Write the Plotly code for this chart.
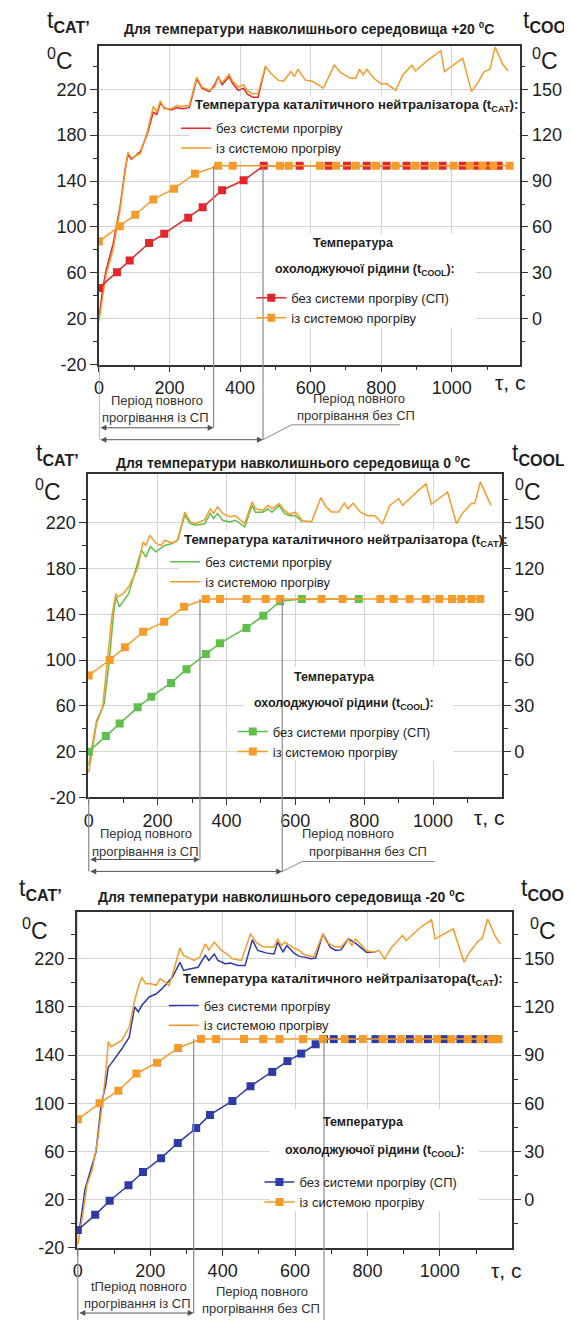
import plotly.graph_objects as go

FONT = "Liberation Sans, Arial, Helvetica, sans-serif"
W, H = 572, 1322

# ---------------- DATA ----------------
# Panel 1: ambient +20 C  (t_CAT in left-axis units, t_COOL in right-axis units)
p1_cat_t_wo = [0, 10, 20, 40, 60, 75, 82, 92, 118, 138, 154, 164, 174, 185, 205, 221, 236, 256, 277, 292,
               313, 328, 338, 349, 369, 379, 395, 410, 420, 436, 451, 472]
p1_cat_wo = [20, 45, 62, 85, 118, 152, 163, 159, 166, 182, 200, 198, 208, 204, 202, 204, 203, 204, 229, 221,
             218, 224, 231, 224, 231, 225, 219, 221, 216, 213, 213, 240]
p1_cat_t_w = [0, 10, 20, 40, 60, 75, 82, 92, 118, 138, 154, 164, 174, 185, 205, 221, 236, 256, 277, 292,
              313, 328, 338, 349, 369, 379, 395, 410, 420, 436, 451, 472, 487, 508, 523, 544, 554, 564, 585, 605,
              636, 667, 687, 713, 728, 738, 749, 759, 779, 800, 815, 841, 861, 887, 897, 933, 969, 979, 1031, 1056,
              1072, 1092, 1108, 1123, 1144, 1159]
p1_cat_w = [18, 40, 58, 80, 115, 150, 165, 160, 164, 184, 205, 200, 210, 203, 203, 206, 205, 206, 230.5, 222,
            219, 222, 230, 226, 233, 227, 222, 224, 219, 216, 216.5, 240, 234, 228, 227, 235.5, 231, 237.5, 228, 227,
            221, 241, 234, 229.6, 229.6, 237.5, 232.5, 237.5, 229.6, 224.7, 225, 219, 232.5, 241, 236, 245.7, 253.6, 235.5, 247, 218,
            225, 235.5, 237.5, 256.8, 242, 236]
p1_cool_t_wo = [0, 51, 87, 142, 185, 253, 294, 349, 410, 467, 569, 651, 703, 759, 815, 872, 923, 974, 1031, 1072,
                1103, 1133]
p1_cool_wo = [20, 30.4, 38, 49.5, 55.6, 66, 72.8, 84, 90.5, 100, 100, 100, 100, 100, 100, 100, 100, 100, 100, 100,
              100, 100]
p1_cool_t_w = [0, 59, 103, 154, 213, 272, 338, 379, 513, 538, 626, 672, 728, 785, 841, 897, 949, 1005, 1051, 1087,
               1118, 1164]
p1_cool_w = [50.6, 60.4, 68, 78, 85, 94.8, 100, 100, 100, 100, 100, 100, 100, 100, 100, 100, 100, 100, 100, 100,
             100, 100]
p1_warmup = [325, 465]   # full warm-up time: with heating, without heating

# Panel 2: ambient 0 C
p2_cat_t_wo = [0, 12, 23, 45, 60, 72, 79, 89, 116, 153, 166, 179, 195, 221, 242, 258, 279, 295, 310, 337,
               353, 363, 374, 389, 410, 426, 453, 474, 484, 505, 521, 532, 553, 568, 584, 600, 621]
p2_cat_wo = [8, 30, 47, 62, 100, 140, 155, 146.5, 158, 196, 190, 199, 194.4, 200, 201.7, 204.6, 226.4, 219, 217.7, 219,
             228, 223.5, 228, 222, 220.6, 222, 216, 235, 229, 229, 232, 229, 235, 228, 226, 226, 220.6]
p2_cat_t_w = [0, 12, 23, 40, 55, 68, 79, 84, 100, 116, 142, 158, 166, 177, 195, 210, 221, 242, 258, 279,
              295, 310, 337, 353, 363, 374, 389, 410, 426, 453, 474, 484, 505, 521, 532, 553, 568, 584, 600, 621,
              647, 674, 689, 705, 726, 742, 753, 768, 789, 810, 831, 853, 874, 900, 911, 947, 979, 995, 1042, 1068,
              1084, 1111, 1121, 1137, 1158, 1168]
p2_cat_w = [2, 25, 45, 58, 100, 140, 158, 155, 158, 164, 180, 203, 200, 209, 202, 200, 204.6, 202, 204.6, 229,
            220.6, 219, 222.6, 232, 228, 233.7, 228, 225, 226, 219, 238, 232, 230.5, 235, 232, 236.6, 230.8, 227, 229, 221.5,
            220.6, 241.8, 233.7, 229.3, 229.3, 237, 232, 237, 229, 226, 226, 219, 235, 241, 235, 245, 254, 236, 246.7, 219,
            227.7, 236.6, 236.6, 255.5, 242, 235]
p2_cool_t_wo = [0, 50, 90, 142, 182, 239, 284, 340, 381, 458, 507, 556, 619, 784]
p2_cool_wo = [0, 10.3, 18.4, 29, 36, 45, 54, 64, 71, 81, 89, 98.5, 100, 100]
p2_cool_t_w = [0, 61, 105, 158, 219, 277, 340, 381, 458, 514, 556, 676, 737, 847, 886, 932, 979, 1018, 1055, 1082,
               1111, 1137]
p2_cool_w = [49.9, 60, 68.3, 78.5, 85, 94.9, 100, 100, 100, 100, 100, 100, 100, 100, 100, 100, 100, 100, 100, 100,
             100, 100]
p2_warmup = [323, 562]

# Panel 3: ambient -20 C
p3_cat_t_wo = [3, 20, 50, 65, 77, 84, 92, 122, 142, 157, 167, 177, 197, 217, 232, 262, 282, 292, 312, 332,
               352, 362, 377, 387, 407, 422, 442, 462, 482, 497, 522, 542, 552, 567, 577, 597, 612, 627, 642, 657,
               677, 697, 712, 727, 747, 767, 797, 822]
p3_cat_wo = [-8, 29, 59.5, 100, 115, 130, 133, 145.5, 155, 180, 176, 181.4, 188.3, 191, 195, 205, 217, 210.3, 211.7, 213,
             222.8, 218.6, 224, 218.6, 215.9, 216.4, 214.5, 214.5, 235.7, 226.9, 224.7, 224, 233.8, 225.5, 231, 224.7, 222, 221.4, 220, 220.6,
             240.7, 229.7, 227, 227.4, 236.6, 233, 225.5, 225.5]
p3_cat_t_w = [0, 15, 25, 40, 55, 70, 80, 84, 92, 122, 142, 157, 167, 177, 187, 202, 217, 227, 242, 252,
              262, 282, 292, 322, 337, 352, 362, 377, 397, 412, 427, 452, 477, 492, 512, 542, 552, 562, 572, 592,
              612, 622, 642, 652, 677, 687, 707, 727, 747, 757, 767, 797, 817, 832, 847, 867, 897, 907, 947, 977,
              987, 1037, 1067, 1082, 1107, 1117, 1132, 1152, 1167]
p3_cat_w = [-17, 10, 32, 45, 70, 105, 135, 151, 147, 152.4, 163.4, 185.5, 196.6, 204.8, 199.3, 199.3, 198, 203.4, 200.7, 198,
            207.6, 229, 222.8, 218.6, 221.4, 232.4, 227.4, 233.8, 226.9, 224, 220, 218.6, 240.7, 233.8, 229.7, 229.7, 236.6, 231, 233.8, 229.7,
            226.9, 224, 222, 222, 240.7, 233.8, 230.2, 229.7, 236.6, 231, 236.6, 226.9, 225.5, 227, 220, 229.7, 239.3, 235.2, 246.2, 252.3,
            236.6, 244.8, 217.2, 225.5, 235.2, 236.6, 253, 239.3, 232.4]
p3_cool_t_wo = [0, 48, 88, 140, 180, 230, 276, 327, 365, 427, 477, 537, 579, 617, 657, 680, 707, 757, 822, 867,
                917, 967, 1012, 1057, 1097, 1127, 1152]
p3_cool_wo = [-18.8, -9.4, -0.6, 9, 17.3, 25.9, 35.3, 44.6, 52.8, 61.5, 70.7, 79.6, 86.3, 91, 96.8, 100, 100, 100, 100, 100,
              100, 100, 100, 100, 100, 100, 100]
p3_cool_t_w = [0, 60, 112, 162, 219, 277, 340, 382, 459, 512, 557, 622, 677, 737, 787, 842, 892, 942, 992, 1032,
               1077, 1112, 1142, 1162]
p3_cool_w = [50.1, 60, 67.9, 78.6, 85.3, 94.5, 100, 100, 100, 100, 100, 100, 100, 100, 100, 100, 100, 100, 100, 100,
             100, 100, 100, 100]
p3_warmup = [320, 680]

x_ticks = [0, 200, 400, 600, 800, 1000]
x_minor = [100, 300, 500, 700, 900, 1100]
left_ticks = [-20, 20, 60, 100, 140, 180, 220]
left_ticktext = ["-20", "20", "60", "100", "140", "180", "220"]
left_minor = [0, 40, 80, 120, 160, 200, 240]
right_ticks = [0, 30, 60, 90, 120, 150]
right_minor = [-15, 15, 45, 75, 105, 135, 165]

titles = ["Для температури навколишнього середовища +20 <sup>0</sup>C",
          "Для температури навколишнього середовища 0 <sup>0</sup>C",
          "Для температури навколишнього середовища -20 <sup>0</sup>C"]
cat_legend_titles = ["Температура каталітичного нейтралізатора (t<sub>CAT</sub>):",
                     "Температура каталітичного нейтралізатора (t<sub>CAT</sub>):",
                     "Температура каталітичного нейтралізатора(t<sub>CAT</sub>):"]
cool_legend_title = ["Температура", "охолоджуючої рідини (t<sub>COOL</sub>):"]
name_cat_wo = "без системи прогріву"
name_cat_w = "із системою прогріву"
name_cool_wo = "без системи прогріву (СП)"
name_cool_w = "із системою прогріву"
period_with = ["Період повного", "прогрівання із СП"]
period_without = ["Період повного", "прогрівання без СП"]
period_with_p3 = ["tПеріод повного", "прогрівання із СП"]

# right axis (t_COOL) relation to left axis (t_CAT): cool = (cat - 20) * 0.75
R_SCALE, R_OFF = 0.75, 20

# ---------------- STYLE / GEOMETRY ----------------
RED = "#E3262B"
GREEN = "#5EC04B"
BLUE = "#2E3AA6"
ORANGE = "#F59B2A"
GRID = "#D4D4D4"
AX = "#333333"
TXT = "#1E1E1E"
VLINE = "#8A8A8A"

PANELS = [
    dict(l=86.7, r=511.0, t=38.0, b=359.3, xr=(0, 1192), yr=(-20, 258)),
    dict(l=75.7, r=493.3, t=470.0, b=795.5, xr=(-2, 1200), yr=(-20, 262)),
    dict(l=64.3, r=503.3, t=910.7, b=1249.4, xr=(-3, 1199), yr=(-20, 259)),
]


def fx(px):
    return px / W


def fy(py):
    return 1 - py / H


def px2s(p, px):
    return p['xr'][0] + (px - p['l']) / (p['r'] - p['l']) * (p['xr'][1] - p['xr'][0])


def py2v(p, py):
    return p['yr'][0] + (p['b'] - py) / (p['b'] - p['t']) * (p['yr'][1] - p['yr'][0])


def v2py(p, v):
    return p['b'] - (v - p['yr'][0]) / (p['yr'][1] - p['yr'][0]) * (p['b'] - p['t'])


def cool2left(c):
    return c / R_SCALE + R_OFF


data = [
    dict(cat_wo=(p1_cat_t_wo, p1_cat_wo), cat_w=(p1_cat_t_w, p1_cat_w),
         cool_wo=(p1_cool_t_wo, p1_cool_wo), cool_w=(p1_cool_t_w, p1_cool_w),
         warm=p1_warmup, color=RED),
    dict(cat_wo=(p2_cat_t_wo, p2_cat_wo), cat_w=(p2_cat_t_w, p2_cat_w),
         cool_wo=(p2_cool_t_wo, p2_cool_wo), cool_w=(p2_cool_t_w, p2_cool_w),
         warm=p2_warmup, color=GREEN),
    dict(cat_wo=(p3_cat_t_wo, p3_cat_wo), cat_w=(p3_cat_t_w, p3_cat_w),
         cool_wo=(p3_cool_t_wo, p3_cool_wo), cool_w=(p3_cool_t_w, p3_cool_w),
         warm=p3_warmup, color=BLUE),
]

# layout-only positions (pixels)
LEG = [
    dict(cat=(164.5, 106), cool=(240.4, 277), cat_bg=(178, 89, 511, 154), cool_bg=(252, 228, 467, 322),
         cat_title=(181.5, 98), cool_t1=(343, 237), cool_t2=(355, 264)),
    dict(cat=(153.5, 543), cool=(221.7, 714), cat_bg=(167, 526, 493.3, 589), cool_bg=(233, 664, 444, 758),
         cat_title=(170.5, 536.5), cool_t1=(324, 674.5), cool_t2=(334, 701.5)),
    dict(cat=(152.1, 990), cool=(248.6, 1168), cat_bg=(165, 967, 503.3, 1033), cool_bg=(259, 1110, 470, 1212),
         cat_title=(169.1, 979), cool_t1=(354, 1122), cool_t2=(365, 1152)),
]
TITLE_POS = [(299, 20), (282, 457), (271, 895)]
CORNER = [
    dict(tl=(56, 14), cl=(47, 51), tr=(543, 14), cr=(537, 51)),
    dict(tl=(45, 450), cl=(35, 486), tr=(532, 450), cr=(520, 486)),
    dict(tl=(28, 888), cl=(22, 928), tr=(541, 888), cr=(535, 928)),
]
TAU = [(501, 377), (480, 816), (497, 1272)]
PERIOD_TXT = [
    dict(w=[(145.6, 395.6), (143.8, 413)], wo=[(348.6, 393), (346, 410.7)]),
    dict(w=[(134, 831.7), (134, 850)], wo=[(338, 831.7), (358, 850)]),
    dict(w=[(127, 1288), (125.6, 1305)], wo=[(251, 1293), (250, 1310)]),
]
ARROWS = [(423, 435), (858, 870), (1315, None)]
LEADER = [(420, 281, 390.6), (860, 291.8, 425.6), None]
VBOTTOM = [(423, 435), (858, 870), (1315, 1322)]

fig = go.Figure()
layout = dict(width=W, height=H, margin=dict(l=0, r=0, t=0, b=0),
              paper_bgcolor="white", plot_bgcolor="white",
              font=dict(family=FONT, color=TXT), showlegend=True)
annotations = []
shapes = []


def text_ann(txt, x, y, size, anchor="center", bold=False, color=TXT):
    if bold:
        txt = "<b>" + txt + "</b>"
    return dict(text=txt, x=fx(x), y=fy(y), xref="paper", yref="paper", xanchor=anchor,
                yanchor="middle", showarrow=False, font=dict(size=size, color=color, family=FONT))


for i, (p, d) in enumerate(zip(PANELS, data)):
    n = i + 1
    xa = "x" if n == 1 else f"x{n}"
    ya = "y" if n == 1 else f"y{n}"
    yr_ = f"y{n + 3}"
    lc = "legend" if n == 1 else f"legend{2 * n - 1}"
    lk = f"legend{2 * n}"

    # t_CAT traces
    fig.add_trace(go.Scatter(x=d['cat_wo'][0], y=d['cat_wo'][1], mode="lines", name=name_cat_wo,
                             line=dict(color=d['color'], width=1.5), xaxis=xa, yaxis=ya, legend=lc))
    fig.add_trace(go.Scatter(x=d['cat_w'][0], y=d['cat_w'][1], mode="lines", name=name_cat_w,
                             line=dict(color=ORANGE, width=1.5), xaxis=xa, yaxis=ya, legend=lc))
    # coolant traces (right axis)
    fig.add_trace(go.Scatter(x=d['cool_wo'][0], y=d['cool_wo'][1], mode="lines+markers", name=name_cool_wo,
                             line=dict(color=d['color'], width=1.5),
                             marker=dict(symbol="square", size=8, color=d['color']),
                             xaxis=xa, yaxis=yr_, legend=lk))
    fig.add_trace(go.Scatter(x=d['cool_w'][0], y=d['cool_w'][1], mode="lines+markers", name=name_cool_w,
                             line=dict(color=ORANGE, width=1.5),
                             marker=dict(symbol="square", size=8, color=ORANGE),
                             xaxis=xa, yaxis=yr_, legend=lk))

    tickfont = dict(size=18, color=TXT, family=FONT)
    layout["xaxis" if n == 1 else f"xaxis{n}"] = dict(
        domain=[fx(p['l']), fx(p['r'])], range=list(p['xr']), anchor=ya,
        tickmode="array", tickvals=x_ticks, ticks="outside", ticklen=6, tickwidth=1.2, tickcolor=AX,
        minor=dict(tickmode="array", tickvals=x_minor, ticks="outside", ticklen=4, tickwidth=1, tickcolor=AX,
                   showgrid=False),
        showgrid=True, gridcolor=GRID, gridwidth=1, zeroline=False,
        showline=True, mirror=True, linecolor=AX, linewidth=1.5, tickfont=tickfont)
    layout["yaxis" if n == 1 else f"yaxis{n}"] = dict(
        domain=[fy(p['b']), fy(p['t'])], range=list(p['yr']), anchor=xa,
        tickmode="array", tickvals=left_ticks, ticktext=left_ticktext,
        ticks="outside", ticklen=7, tickwidth=1.2, tickcolor=AX,
        minor=dict(tickmode="array", tickvals=left_minor, ticks="outside", ticklen=4, tickwidth=1, tickcolor=AX,
                   showgrid=False),
        showgrid=True, gridcolor=GRID, gridwidth=1, zeroline=False,
        showline=True, linecolor=AX, linewidth=1.5, tickfont=tickfont)
    layout[f"yaxis{n + 3}"] = dict(
        overlaying=ya, side="right", anchor=xa,
        range=[(p['yr'][0] - R_OFF) * R_SCALE, (p['yr'][1] - R_OFF) * R_SCALE],
        tickmode="array", tickvals=right_ticks, ticks="outside", ticklen=7, tickwidth=1.2, tickcolor=AX,
        minor=dict(tickmode="array", tickvals=right_minor, ticks="outside", ticklen=4, tickwidth=1, tickcolor=AX,
                   showgrid=False),
        showgrid=False, zeroline=False, showline=True, linecolor=AX, linewidth=1.5, tickfont=tickfont)

    lg = LEG[i]
    for key, lname in (("cat", lc), ("cool", lk)):
        layout[lname] = dict(x=fx(lg[key][0]), y=fy(lg[key][1]), xanchor="left", yanchor="top",
                             bgcolor="rgba(0,0,0,0)", borderwidth=0, tracegroupgap=0,
                             font=dict(size=13, color=TXT, family=FONT))

    # white boxes behind legends (hide gridlines only)
    for key in ("cat_bg", "cool_bg"):
        L, T, R, B = lg[key]
        shapes.append(dict(type="rect", xref=xa, yref=ya, layer="between",
                           x0=px2s(p, L), x1=px2s(p, R), y0=py2v(p, B), y1=py2v(p, T),
                           fillcolor="white", line=dict(width=0)))
    # legend titles
    annotations.append(text_ann(cat_legend_titles[i], lg['cat_title'][0], lg['cat_title'][1], 13.2,
                                anchor="left", bold=True))
    annotations.append(text_ann(cool_legend_title[0], lg['cool_t1'][0], lg['cool_t1'][1], 12.5, bold=True))
    annotations.append(text_ann(cool_legend_title[1], lg['cool_t2'][0], lg['cool_t2'][1], 12.5, bold=True))

    # title
    tx, ty = TITLE_POS[i]
    annotations.append(text_ann(titles[i], tx, ty, 14, bold=True))
    # corner axis labels
    c = CORNER[i]
    annotations.append(text_ann("t<sub><b>CAT’</b></sub>", c['tl'][0], c['tl'][1], 23))
    annotations.append(text_ann("t<sub><b>COOL’</b></sub>", c['tr'][0], c['tr'][1], 23))
    annotations.append(text_ann("<sup>0</sup>C", c['cl'][0], c['cl'][1], 23))
    annotations.append(text_ann("<sup>0</sup>C", c['cr'][0], c['cr'][1], 23))
    # tau label
    annotations.append(text_ann("τ, c", TAU[i][0], TAU[i][1], 21))
    # period texts
    pt = PERIOD_TXT[i]
    wtxt = period_with_p3 if n == 3 else period_with
    for (x0, y0), s in zip(pt['w'], wtxt):
        annotations.append(text_ann(s, x0, y0, 13, color="#333"))
    for (x0, y0), s in zip(pt['wo'], period_without):
        annotations.append(text_ann(s, x0, y0, 13, color="#333"))

    # vertical marker lines at warm-up times (from coolant 100 C down to arrows)
    top_py = v2py(p, cool2left(100))
    for wt, yb in zip(d['warm'], VBOTTOM[i]):
        shapes.append(dict(type="line", xref=xa, yref="paper", x0=wt, x1=wt, y0=fy(top_py), y1=fy(yb),
                           line=dict(color=VLINE, width=1.2)))
    shapes.append(dict(type="line", xref=xa, yref="paper", x0=0, x1=0, y0=fy(p['b']), y1=fy(VBOTTOM[i][1]),
                       line=dict(color=VLINE, width=1.2)))
    # double arrows
    a1, a2 = ARROWS[i]
    for ay_, wt in ((a1, d['warm'][0]), (a2, d['warm'][1])):
        if ay_ is None:
            continue
        annotations.append(dict(text="", x=wt, y=fy(ay_), xref=xa, yref="paper", axref=xa, ax=0,
                                ayref="pixel", ay=0, showarrow=True, arrowhead=2, arrowside="end+start",
                                arrowsize=1.2, arrowwidth=1, arrowcolor="#555"))
    # leader line to "без СП" label
    if LEADER[i] is not None:
        ly, lx1, lx2 = LEADER[i]
        shapes.append(dict(type="line", xref=xa, yref="paper", x0=d['warm'][1], y0=fy(a2),
                           x1=px2s(p, lx1), y1=fy(ly), line=dict(color=VLINE, width=1)))
        shapes.append(dict(type="line", xref=xa, yref="paper", x0=px2s(p, lx1), y0=fy(ly),
                           x1=px2s(p, lx2), y1=fy(ly), line=dict(color=VLINE, width=1)))

layout["annotations"] = annotations
layout["shapes"] = shapes
fig.update_layout(**layout)
fig.write_html("out.html")
